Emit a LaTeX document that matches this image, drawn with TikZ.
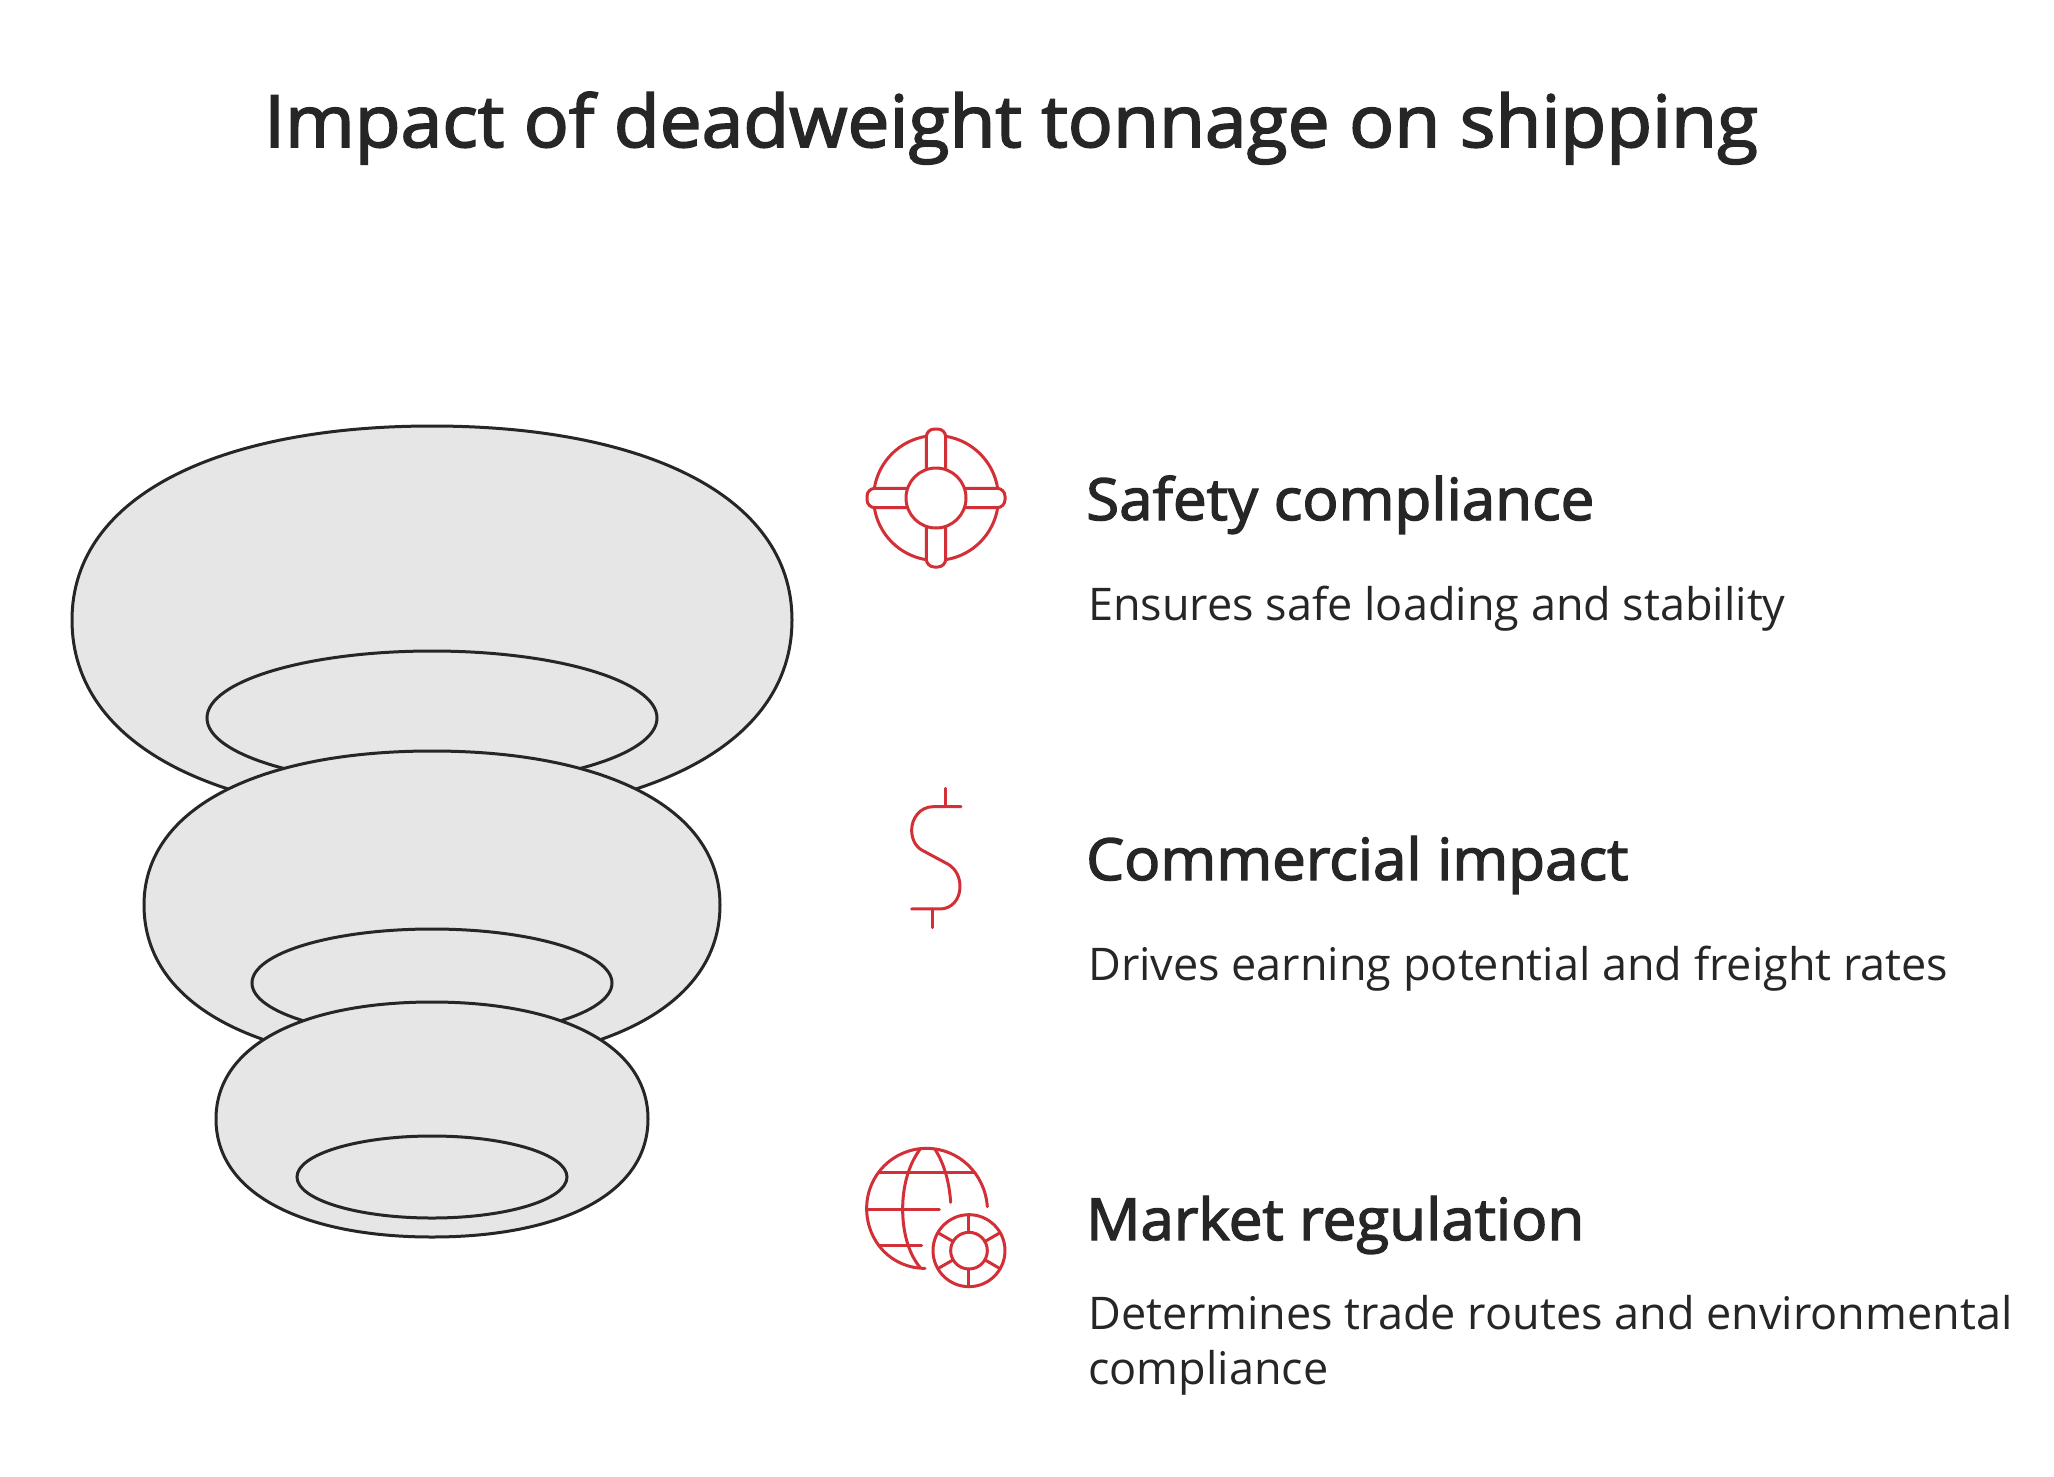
\documentclass[tikz,border=0pt]{standalone}
\usepackage{fontspec}
\usetikzlibrary{calc}
\setmainfont{Open Sans}
\newfontfamily\medfont[FakeBold=2.4,FakeStretch=1.036]{Open Sans}
\newfontfamily\titlefont[FakeBold=2.4,FakeStretch=1.04]{Open Sans}
\definecolor{ink}{HTML}{262626}
\definecolor{blobfill}{HTML}{E6E6E6}
\definecolor{iconred}{HTML}{D32F37}
\newcommand{\blobpath}[5]{% cx, widest y, rx, top y, bottom y
  \pgfmathsetmacro{\xl}{#1-#3}\pgfmathsetmacro{\xr}{#1+#3}
  \pgfmathsetmacro{\kt}{(#2-#4)*0.65}\pgfmathsetmacro{\kb}{(#5-#2)*0.65}
  \pgfmathsetmacro{\kx}{#3*0.58}
  \draw[blob] (\xl,#2) .. controls (\xl,#2-\kt) and (#1-\kx,#4) .. (#1,#4)
     .. controls (#1+\kx,#4) and (\xr,#2-\kt) .. (\xr,#2)
     .. controls (\xr,#2+\kb) and (#1+\kx,#5) .. (#1,#5)
     .. controls (#1-\kx,#5) and (\xl,#2+\kb) .. (\xl,#2) -- cycle;}
\tikzset{
  blob/.style={draw=ink,fill=blobfill,line width=3pt},
  icon/.style={draw=iconred,line width=3pt,line cap=round,line join=round},
  titletext/.style={anchor=base west,inner sep=0pt,text=ink,font=\fontsize{72}{80}\selectfont\titlefont},
  headtext/.style={anchor=base west,inner sep=0pt,text=ink,font=\fontsize{58}{64}\selectfont\medfont},
  desctext/.style={anchor=base west,inner sep=0pt,text=ink,font=\fontsize{45}{54.4}\selectfont}
}
\begin{document}
\begin{tikzpicture}[x=1pt,y=-1pt]
\useasboundingbox (0,0) rectangle (2054,1476);
\fill[white] (0,0) rectangle (2054,1476);
\node[titletext] (title) at (264,147) {Impact of deadweight tonnage on shipping};
% stacked rings
\blobpath{432}{620}{360}{426}{817}
\draw[blob] (432,718) ellipse [x radius=225,y radius=67];
\blobpath{432}{905}{288}{751}{1064}
\draw[blob] (432,983) ellipse [x radius=180,y radius=54];
\blobpath{432}{1119}{216}{1002}{1237}
\draw[blob] (432,1177) ellipse [x radius=135,y radius=41];
% lifebuoy
\begin{scope}[shift={(936,498)}]
  \draw[icon] (-9.7,-61.7) arc [start angle=261,end angle=189,radius=62.5];
  \draw[icon] (9.7,-61.7) arc [start angle=279,end angle=351,radius=62.5];
  \draw[icon] (61.7,9.7) arc [start angle=9,end angle=81,radius=62.5];
  \draw[icon] (-9.7,61.7) arc [start angle=99,end angle=171,radius=62.5];
  \draw[icon] (0,0) circle [radius=30];
  \draw[icon,rounded corners=8pt] (-9.7,-28.4) -- (-9.7,-69) -- (9.7,-69) -- (9.7,-28.4);
  \draw[icon,rounded corners=8pt] (-9.7,28.4) -- (-9.7,69) -- (9.7,69) -- (9.7,28.4);
  \draw[icon,rounded corners=8pt] (-28.4,-9.7) -- (-69,-9.7) -- (-69,9.7) -- (-28.4,9.7);
  \draw[icon,rounded corners=8pt] (28.4,-9.7) -- (69,-9.7) -- (69,9.7) -- (28.4,9.7);
\end{scope}
% dollar
\begin{scope}[shift={(880,770)},x=0.3333pt,y=-0.3333pt]
  \draw[icon] (195,55) -- (195,110);
  \draw[icon] (243,110) -- (160,110) .. controls (120,110) and (95,145) .. (95,180)
     .. controls (95,205) and (105,228) .. (125,240) -- (205,283)
     .. controls (228,297) and (240,322) .. (240,350)
     .. controls (240,388) and (215,417) .. (180,417) -- (95,417);
  \draw[icon] (158,417) -- (158,473);
\end{scope}
% globe + wheel
\begin{scope}[shift={(850,1130)},x=0.3333pt,y=-0.3333pt]
  \draw[icon] (225,415) .. controls (125,415) and (50,335) .. (50,235)
     .. controls (50,135) and (130,55) .. (230,55)
     .. controls (325,55) and (405,130) .. (412,230);
  \draw[icon] (88,128) -- (372,128);
  \draw[icon] (50,237) -- (268,237);
  \draw[icon] (88,345) -- (215,345);
  \draw[icon] (210,58) .. controls (175,105) and (158,170) .. (158,237)
     .. controls (158,305) and (175,370) .. (210,412);
  \draw[icon] (255,58) .. controls (282,100) and (298,155) .. (302,217);
  \draw[icon] (357,362) circle [radius=108];
  \draw[icon] (357,362) circle [radius=55];
  \foreach \a in {30,90,150,210,270,330}{
    \draw[icon] ($(357,362)+(\a:55)$) -- ($(357,362)+(\a:108)$);
  }
\end{scope}
% labels
\node[headtext] (h1) at (1086,520) {Safety compliance};
\node[desctext] (d1) at (1088,620) {Ensures safe loading and stability};
\node[headtext] (h2) at (1086,880) {Commercial impact};
\node[desctext] (d2) at (1088,980) {Drives earning potential and freight rates};
\node[headtext] (h3) at (1086,1240) {Market regulation};
\node[desctext,align=left,anchor=north west] (d3) at (1088,1295.5) {Determines trade routes and environmental\\compliance};
\end{tikzpicture}
\end{document}
